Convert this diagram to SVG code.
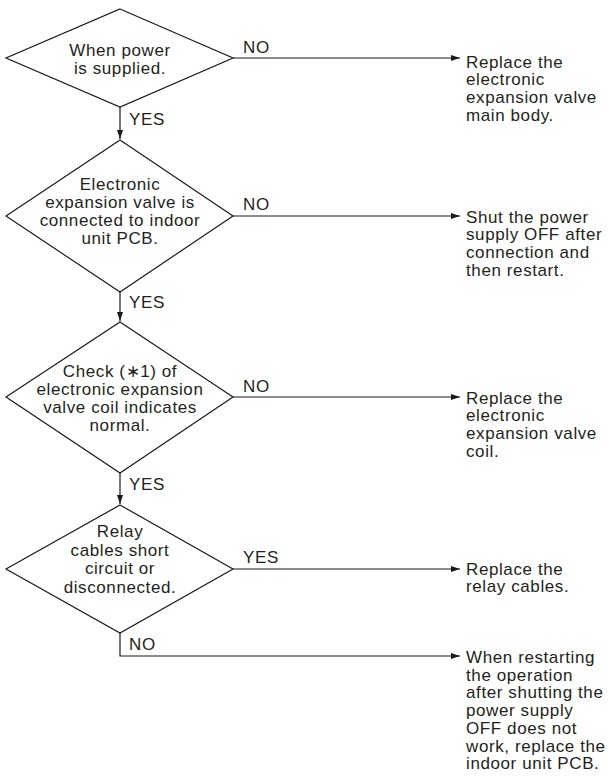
<svg xmlns="http://www.w3.org/2000/svg" width="610" height="776" viewBox="0 0 610 776">
<style>
.d{fill:#fff;stroke:#1a1a1a;stroke-width:1.2}
.c{fill:none;stroke:#1a1a1a;stroke-width:1.2}
text{font-family:"Liberation Sans",Arial,Helvetica,sans-serif;font-size:17px;letter-spacing:0.6px;fill:#231f20}
.m{text-anchor:middle}
</style>
<defs>
<marker id="ah" markerUnits="userSpaceOnUse" markerWidth="10" markerHeight="8" refX="9" refY="3" orient="auto">
<path d="M0,0 L9,3 L0,6 z" fill="#1a1a1a"/>
</marker>
</defs>
<rect width="610" height="776" fill="#fff"/>
<g id="connectors">
<path class="c" d="M120,107 V139" marker-end="url(#ah)"/>
<path class="c" d="M120,292 V321" marker-end="url(#ah)"/>
<path class="c" d="M120,473 V504" marker-end="url(#ah)"/>
<path class="c" d="M233,58 H460" marker-end="url(#ah)"/>
<path class="c" d="M233,216 H460" marker-end="url(#ah)"/>
<path class="c" d="M233,397 H460" marker-end="url(#ah)"/>
<path class="c" d="M233,569 H460" marker-end="url(#ah)"/>
<path class="c" d="M120,633 V656 H460" marker-end="url(#ah)"/>
<text x="243" y="53">NO</text>
<text x="129" y="125">YES</text>
<text x="243" y="210">NO</text>
<text x="129" y="308">YES</text>
<text x="243" y="392">NO</text>
<text x="129" y="490">YES</text>
<text x="243" y="563">YES</text>
<text x="129" y="650">NO</text>
</g>
<g id="d1">
<polygon class="d" points="120,9 233,58 120,107 6,58"/>
<text class="m" x="120" y="56">When power</text>
<text class="m" x="120" y="74">is supplied.</text>
</g>
<g id="d2">
<polygon class="d" points="120,140 233,216 120,292 6,216"/>
<text class="m" x="120" y="189.5">Electronic</text>
<text class="m" x="120" y="207.5">expansion valve is</text>
<text class="m" x="120" y="225.5">connected to indoor</text>
<text class="m" x="120" y="243.5">unit PCB.</text>
</g>
<g id="d3">
<polygon class="d" points="120,322 233,397 120,473 6,397"/>
<text class="m" x="120" y="377">Check (∗1) of</text>
<text class="m" x="120" y="395">electronic expansion</text>
<text class="m" x="120" y="413">valve coil indicates</text>
<text class="m" x="120" y="431">normal.</text>
</g>
<g id="d4">
<polygon class="d" points="120,505 233,569 120,633 6,569"/>
<text class="m" x="120" y="537">Relay</text>
<text class="m" x="120" y="555.5">cables short</text>
<text class="m" x="120" y="574">circuit or</text>
<text class="m" x="120" y="592.5">disconnected.</text>
</g>
<g id="r1">
<text x="466" y="67.5">Replace the</text>
<text x="466" y="85.2">electronic</text>
<text x="466" y="102.9">expansion valve</text>
<text x="466" y="120.6">main body.</text>
</g>
<g id="r2">
<text x="466" y="222.5">Shut the power</text>
<text x="466" y="240.2">supply OFF after</text>
<text x="466" y="257.9">connection and</text>
<text x="466" y="275.6">then restart.</text>
</g>
<g id="r3">
<text x="466" y="403.5">Replace the</text>
<text x="466" y="421.2">electronic</text>
<text x="466" y="438.9">expansion valve</text>
<text x="466" y="456.6">coil.</text>
</g>
<g id="r4">
<text x="466" y="574.5">Replace the</text>
<text x="466" y="592.2">relay cables.</text>
</g>
<g id="r5">
<text x="466" y="663">When restarting</text>
<text x="466" y="680.7">the operation</text>
<text x="466" y="698.4">after shutting the</text>
<text x="466" y="716.1">power supply</text>
<text x="466" y="733.8">OFF does not</text>
<text x="466" y="751.5">work, replace the</text>
<text x="466" y="769.2">indoor unit PCB.</text>
</g>
</svg>
